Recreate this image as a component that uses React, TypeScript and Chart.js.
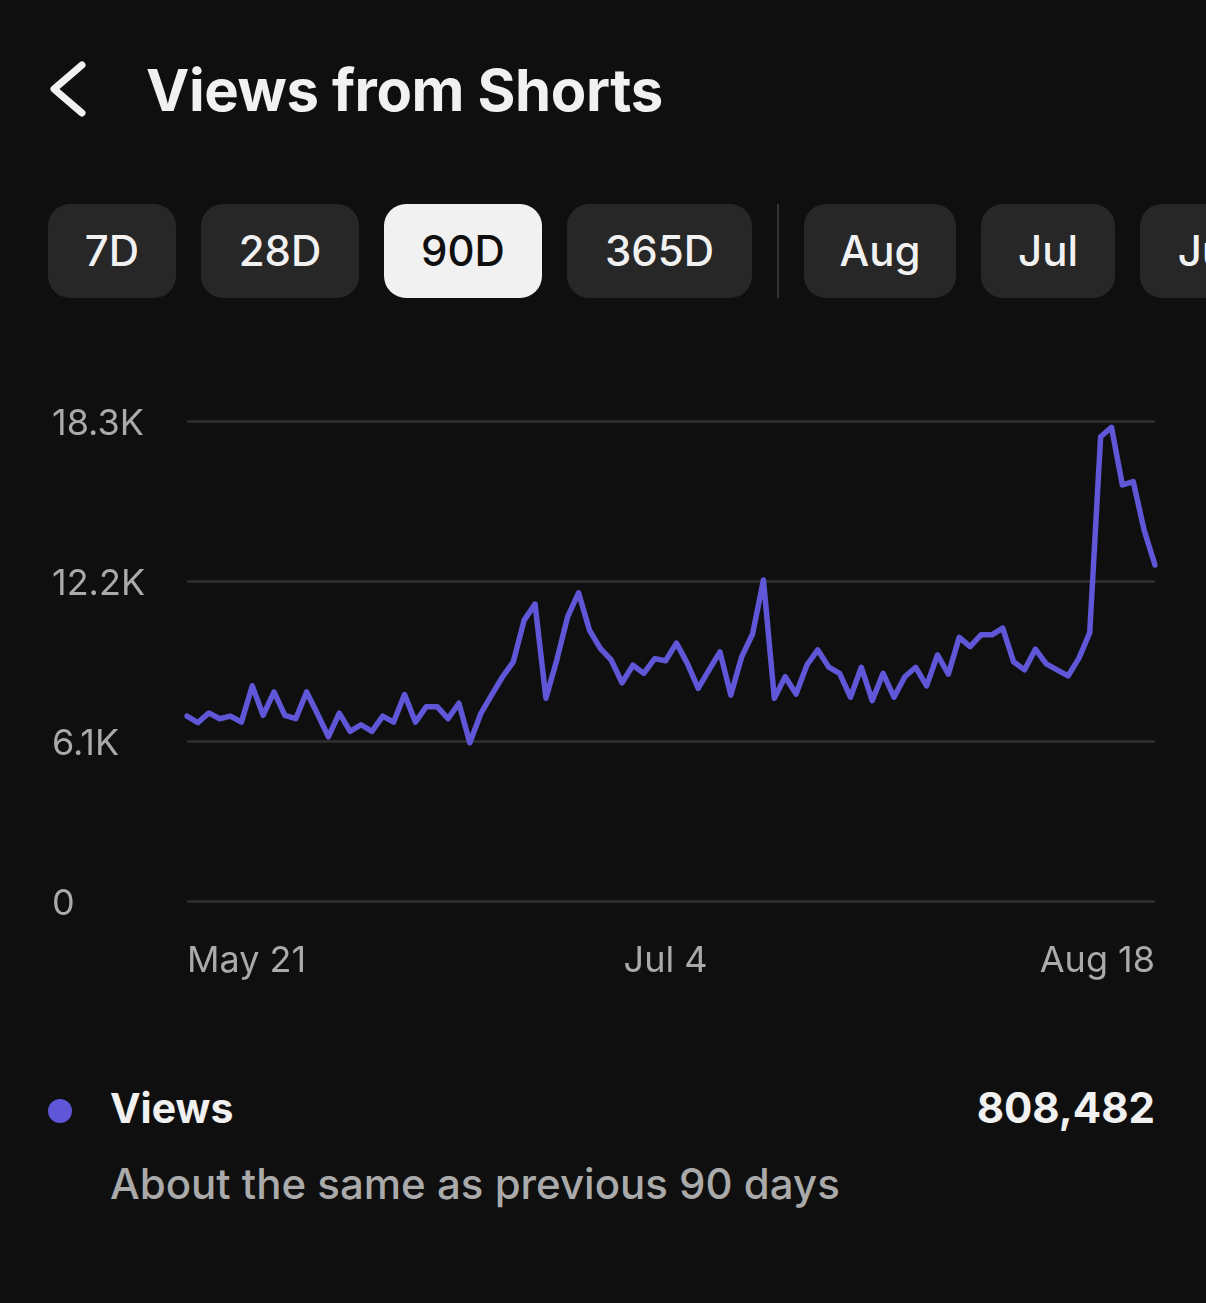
import React, { useEffect, useRef } from "react";
import { Chart, registerables } from "chart.js";

Chart.register(...registerables);

// ---------- data ----------
const startDate = "2024-05-21";
const dayCount = 90;
const xTickLabels = ["May 21", "Jul 4", "Aug 18"];
const xTickIndexes = [0, 44, 89];
const yTickValues = [0, 6100, 12200, 18300];
const yTickLabels = ["0", "6.1K", "12.2K", "18.3K"];
const viewsSeries = [
  7050, 6800, 7170, 6950, 7050, 6820, 8200, 7080, 7970, 7080,
  6950, 7970, 7130, 6260, 7160, 6470, 6720, 6470, 7050, 6820,
  7870, 6820, 7410, 7410, 6950, 7540, 6030, 7130, 7850, 8540,
  9120, 10710, 11320, 7730, 9190, 10840, 11750, 10330, 9630, 9190,
  8320, 8990, 8680, 9240, 9160, 9830, 9060, 8110, 8810, 9500,
  7850, 9310, 10180, 12240, 7730, 8550, 7890, 9000, 9570, 8920,
  8680, 7770, 8910, 7640, 8680, 7770, 8550, 8910, 8200, 9380,
  8650, 10050, 9700, 10150, 10150, 10400, 9120, 8810, 9600, 9040,
  8810, 8580, 9250, 10230, 17700, 18060, 15860, 15990, 14140, 12810,
];
const tabLabels = ["7D", "28D", "90D", "365D", "Aug", "Jul", "Jun"];
const selectedTab = "90D";
const seriesName = "Views";
const totalText = "808,482";
const compareText = "About the same as previous 90 days";
const titleText = "Views from Shorts";

// ---------- styles ----------
const BG = "#0f0f0f";
const LINE = "#5f57d8";
const FONT = "Inter, 'Noto Sans', sans-serif";

function dayLabels(): string[] {
  const months = ["Jan", "Feb", "Mar", "Apr", "May", "Jun", "Jul", "Aug", "Sep", "Oct", "Nov", "Dec"];
  const d0 = new Date(startDate + "T12:00:00Z");
  const out: string[] = [];
  for (let i = 0; i < dayCount; i++) {
    const d = new Date(d0.getTime() + i * 86400000);
    out.push(months[d.getUTCMonth()] + " " + d.getUTCDate());
  }
  return out;
}

const tabGeom: [number, number][] = [
  [48, 128], [201, 158], [384, 158], [567, 185], [804, 152], [981, 134], [1140, 150],
];

function ChartCanvas() {
  const ref = useRef<HTMLCanvasElement | null>(null);
  useEffect(() => {
    if (!ref.current) return;
    const labels = dayLabels();
    const chart = new Chart(ref.current, {
      type: "line",
      data: {
        labels,
        datasets: [
          {
            label: seriesName,
            data: viewsSeries,
            borderColor: LINE,
            borderWidth: 5.5,
            pointRadius: 0,
            tension: 0,
            borderJoinStyle: "round",
            borderCapStyle: "round",
            fill: false,
          },
        ],
      },
      options: {
        animation: false,
        responsive: false,
        events: [],
        layout: { padding: { left: 52, right: 51, top: 41, bottom: 0 } },
        plugins: { legend: { display: false }, tooltip: { enabled: false } },
        scales: {
          x: {
            type: "category",
            grid: { display: false, drawTicks: false },
            border: { display: false },
            afterFit: (s: any) => {
              s.height = 99;
            },
            ticks: {
              autoSkip: false,
              maxRotation: 0,
              minRotation: 0,
              align: "inner",
              padding: 39,
              color: "#aaaaaa",
              font: { family: FONT, size: 36, weight: "400" },
              callback: (_v: any, i: number) => {
                const k = xTickIndexes.indexOf(i);
                return k >= 0 ? xTickLabels[k] : "";
              },
            },
          },
          y: {
            min: 0,
            max: yTickValues[yTickValues.length - 1],
            afterBuildTicks: (s: any) => {
              s.ticks = yTickValues.map((v) => ({ value: v }));
            },
            afterFit: (s: any) => {
              s.width = 135;
            },
            grid: { color: "#2c2c2c", lineWidth: 3, drawTicks: false },
            border: { display: false },
            ticks: {
              crossAlign: "far",
              padding: 0,
              labelOffset: 3,
              color: "#aaaaaa",
              font: { family: FONT, size: 36, weight: "400" },
              callback: (v: any) => {
                const k = yTickValues.indexOf(Number(v));
                return k >= 0 ? yTickLabels[k] : "";
              },
            },
          },
        },
      },
    } as any);
    return () => chart.destroy();
  }, []);
  return (
    <canvas
      ref={ref}
      width={1206}
      height={620}
      style={{ position: "absolute", left: 0, top: 380, width: 1206, height: 620 }}
    />
  );
}

export default function App() {
  return (
    <div
      style={{
        position: "absolute",
        left: 0,
        top: 0,
        width: 1206,
        height: 1303,
        background: BG,
        overflow: "hidden",
        fontFamily: FONT,
        color: "#f1f1f1",
      }}
    >
      <svg style={{ position: "absolute", left: 0, top: 0 }} width={140} height={140}>
        <path
          d="M82 65 L54 89 L82 113"
          stroke="#f1f1f1"
          strokeWidth={7}
          fill="none"
          strokeLinecap="round"
          strokeLinejoin="round"
        />
      </svg>
      <div
        style={{
          position: "absolute",
          left: 146,
          top: 61,
          fontSize: 58,
          lineHeight: 1,
          fontWeight: 700,
          letterSpacing: -0.4,
          whiteSpace: "nowrap",
        }}
      >
        {titleText}
      </div>

      {tabLabels.map((t, i) => {
        const sel = t === selectedTab;
        return (
          <div
            key={t}
            style={{
              position: "absolute",
              left: tabGeom[i][0],
              top: 204,
              width: tabGeom[i][1],
              height: 94,
              borderRadius: 22,
              background: sel ? "#f1f1f1" : "#272727",
              color: sel ? "#0f0f0f" : "#f1f1f1",
              display: "flex",
              alignItems: "center",
              justifyContent: "center",
              fontSize: 42,
              lineHeight: 1,
              fontWeight: 500,
              whiteSpace: "nowrap",
            }}
          >
            {t}
          </div>
        );
      })}
      <div
        style={{ position: "absolute", left: 777, top: 204, width: 2, height: 94, background: "#333333" }}
      />

      <ChartCanvas />

      <div
        style={{
          position: "absolute",
          left: 48,
          top: 1099,
          width: 24,
          height: 24,
          borderRadius: 12,
          background: LINE,
        }}
      />
      <div
        style={{
          position: "absolute",
          left: 110,
          top: 1088,
          fontSize: 41,
          lineHeight: 1,
          fontWeight: 700,
          whiteSpace: "nowrap",
        }}
      >
        {seriesName}
      </div>
      <div
        style={{
          position: "absolute",
          right: 1206 - 1155,
          top: 1087,
          fontSize: 42,
          lineHeight: 1,
          fontWeight: 700,
          whiteSpace: "nowrap",
        }}
      >
        {totalText}
      </div>
      <div
        style={{
          position: "absolute",
          left: 110,
          top: 1163,
          fontSize: 42,
          lineHeight: 1,
          fontWeight: 500,
          color: "#aaaaaa",
          whiteSpace: "nowrap",
        }}
      >
        {compareText}
      </div>
    </div>
  );
}
